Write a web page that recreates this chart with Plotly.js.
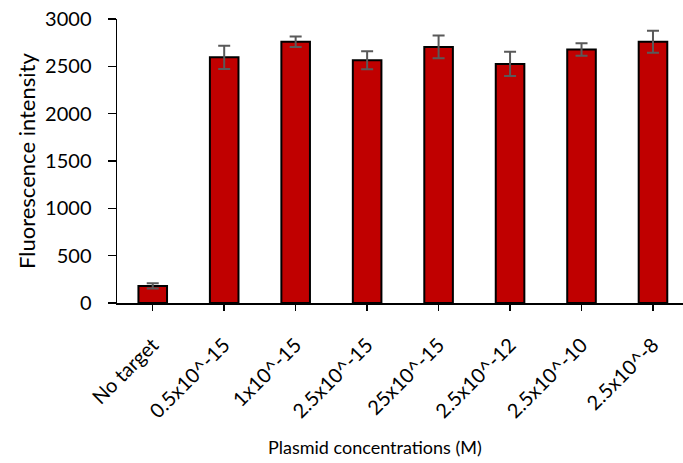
<!DOCTYPE html>
<html>
<head>
<meta charset="utf-8">
<script src="https://cdn.plot.ly/plotly-3.0.1.min.js"></script>
<style>html,body{margin:0;padding:0;background:#fff;}#chart{width:683px;height:463px;}</style>
</head>
<body>
<div id="chart"></div>
<script>
const categories = ["No target", "0.5x10^-15", "1x10^-15", "2.5x10^-15", "25x10^-15", "2.5x10^-12", "2.5x10^-10", "2.5x10^-8"];
const values = [180, 2595, 2760, 2565, 2705, 2525, 2678, 2760];
const errors = [28, 122, 55, 95, 120, 128, 65, 117];
const yTicks = [0, 500, 1000, 1500, 2000, 2500, 3000];
const xTitle = "Plasmid concentrations (M)";
const yTitle = "Fluorescence intensity";

const font = "Lato, 'Open Sans', sans-serif";

const trace = {
  type: "bar",
  x: categories,
  y: values,
  width: 0.4,
  marker: {color: "#C00000", line: {color: "#000000", width: 2}},
  error_y: {type: "data", array: errors, visible: true, color: "#595959", thickness: 2, width: 6}
};

const layout = {
  width: 683, height: 463,
  margin: {l: 117, r: 0, t: 19, b: 160},
  paper_bgcolor: "#fff", plot_bgcolor: "#fff",
  showlegend: false,
  font: {family: font, color: "#000", size: 20},
  xaxis: {
    type: "category",
    range: [-0.5, 7.42],
    showline: true, linecolor: "#000", linewidth: 1.5,
    ticks: "outside", ticklen: 6, tickcolor: "#000", tickwidth: 1.5,
    tickangle: -45,
    ticklabelstandoff: 15,
    tickfont: {family: font, size: 20, color: "#000"},
    showgrid: false, zeroline: false
  },
  yaxis: {
    range: [0, 3000],
    tickvals: yTicks,
    showline: true, linecolor: "#000", linewidth: 1.5,
    ticks: "outside", ticklen: 8, tickcolor: "#000", tickwidth: 1.5,
    ticklabelstandoff: 12,
    tickfont: {family: font, size: 20, color: "#000"},
    showgrid: false, zeroline: false
  },
  annotations: [
    {text: xTitle, xref: "paper", yref: "paper", x: (375 - 117) / 566, y: (303 - 447) / 284,
     xanchor: "center", yanchor: "middle", showarrow: false,
     font: {family: font, size: 18, color: "#000"}},
    {text: yTitle, xref: "paper", yref: "paper", x: (26 - 117) / 566, y: 0.5, textangle: -90,
     xanchor: "center", yanchor: "middle", showarrow: false,
     font: {family: font, size: 22, color: "#000"}}
  ]
};

Plotly.newPlot("chart", [trace], layout, {displayModeBar: false, staticPlot: true});
</script>
</body>
</html>
